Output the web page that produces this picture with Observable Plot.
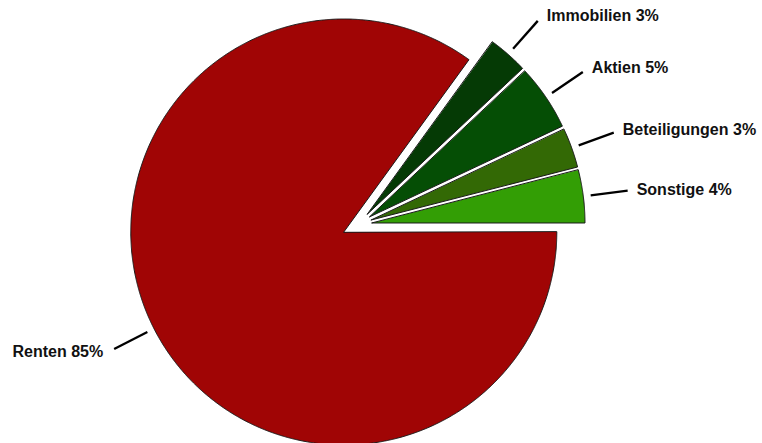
<!DOCTYPE html>
<html><head><meta charset="utf-8">
<script src="https://cdn.jsdelivr.net/npm/d3@7"></script>
<script src="https://cdn.jsdelivr.net/npm/@observablehq/plot@0.6"></script>
<style>body{margin:0;background:#fff}</style>
</head><body><div id="chart"></div>
<script>
const categories = ["Sonstige", "Beteiligungen", "Aktien", "Immobilien", "Renten"];
const values = [4, 3, 5, 3, 85];
const colors = ["#339e05", "#336905", "#054e05", "#053a05", "#a00505"];
const exploded = ["Sonstige", "Beteiligungen", "Aktien", "Immobilien"];
const labels = categories.map((c, i) => `${c} ${values[i]}%`);

const W = 762, H = 443, R = 213, CX = 343.3, CY = 231.5;
const total = d3.sum(values);
let acc = 0;
const slices = categories.map((name, i) => {
  const a0 = acc / total * 2 * Math.PI; acc += values[i];
  const a1 = acc / total * 2 * Math.PI;
  return {name, a0, a1, mid: (a0 + a1) / 2, i, label: labels[i]};
});
const grp = slices.filter(s => exploded.includes(s.name));
const gMid = (d3.min(grp, s => s.a0) + d3.max(grp, s => s.a1)) / 2;
const G = 0.075, E = 0.066;
slices.forEach(s => {
  if (exploded.includes(s.name)) {
    s.ox = G * Math.cos(gMid) + E * Math.cos(s.mid);
    s.oy = G * Math.sin(gMid) + E * Math.sin(s.mid);
  } else { s.ox = 0; s.oy = 0; }
  const c = Math.cos(s.mid), sn = Math.sin(s.mid);
  s.x1 = s.ox + 1.035 * c; s.y1 = s.oy + 1.035 * sn;
  s.x2 = s.ox + 1.21 * c;  s.y2 = s.oy + 1.21 * sn;
  s.right = c >= 0;
  s.tx = s.x2 + (s.right ? 9 : -11) / R;
  s.ty = s.y2 + 7 * sn / R;
});

const pts = slices.flatMap(s => {
  const n = Math.max(4, Math.ceil((s.a1 - s.a0) / 0.005));
  const arr = [{name: s.name, x: s.ox, y: s.oy}];
  for (let k = 0; k <= n; k++) {
    const a = s.a0 + (s.a1 - s.a0) * k / n;
    arr.push({name: s.name, x: s.ox + Math.cos(a), y: s.oy + Math.sin(a)});
  }
  return arr;
});
// draw Renten first
const order = ["Renten", "Sonstige", "Beteiligungen", "Aktien", "Immobilien"];
pts.sort((a, b) => order.indexOf(a.name) - order.indexOf(b.name));

const font = "'Liberation Sans', Arial, sans-serif";
const chart = Plot.plot({
  width: W, height: H,
  margin: 0,
  x: {domain: [-1, 1], range: [CX - R, CX + R], axis: null},
  y: {domain: [-1, 1], range: [CY + R, CY - R], axis: null},
  color: {domain: categories, range: colors},
  style: {fontFamily: font, background: "#fff"},
  marks: [
    Plot.line(pts, {x: "x", y: "y", z: "name", fill: "name", stroke: "#1a1a1a", strokeWidth: 1, curve: "linear-closed"}),
    Plot.link(slices, {x1: "x1", y1: "y1", x2: "x2", y2: "y2", stroke: "#000", strokeWidth: 2.3}),
    Plot.text(slices.filter(s => s.right), {x: "tx", y: "ty", text: "label", textAnchor: "start", fontWeight: "bold", fontSize: 16, fill: "#111"}),
    Plot.text(slices.filter(s => !s.right), {x: "tx", y: "ty", text: "label", textAnchor: "end", fontWeight: "bold", fontSize: 16, fill: "#111"})
  ]
});
document.getElementById("chart").appendChild(chart);
</script>
</body></html>
